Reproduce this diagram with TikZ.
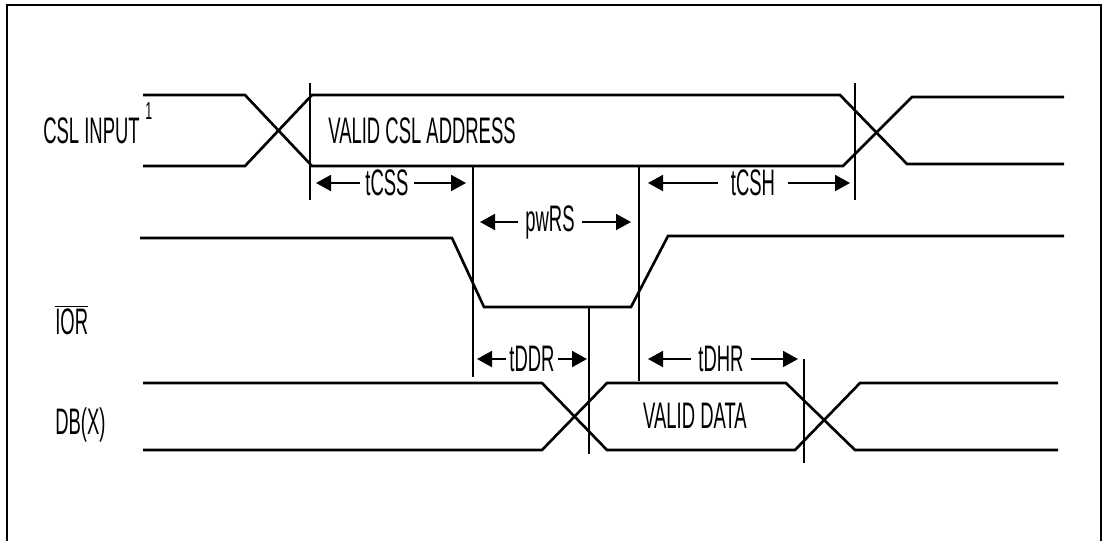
\documentclass[tikz,border=0pt]{standalone}
\usepackage{fontspec}
\setmainfont{Liberation Sans}[FakeStretch=0.5]
\usetikzlibrary{arrows.meta}

\newcommand{\sigfont}{\fontsize{21}{24}\selectfont}

\begin{document}
\begin{tikzpicture}[x=0.2mm,y=-0.2mm,
    every node/.style={font=\sigfont,inner sep=0pt},
    sig/.style={line width=1.5pt,line join=miter},
    refline/.style={line width=1.1pt},
    tim/.style={line width=1.1pt,-{Triangle[length=3mm,width=3.2mm]}},
    lbl/.style={anchor=west}]

    \useasboundingbox (0,0) rectangle (1103,540);
    \draw[line width=1.2pt] (7,545) -- (7,5) -- (1101,5) -- (1101,545);

    % CSL input
    \draw[sig] (143,95) -- (245,95) -- (312,166) -- (843,166) -- (912,97) -- (1064,97);
    \draw[sig] (143,166) -- (245,166) -- (312,95) -- (840,95) -- (907,164) -- (1064,164);
    \node[lbl] (csl) at (43,131) {CSL INPUT};
    \node[lbl,font=\fontsize{14}{16}\selectfont] (note) at (145,111) {1};
    \node[lbl] (addr) at (328,131) {VALID CSL ADDRESS};

    % IOR
    \draw[sig] (140,238) -- (452,238) -- (484,307) -- (631,307) -- (668,236) -- (1064,236);
    \node[lbl] (ior) at (55,320) {$\overline{\hbox{IOR}}$};

    % DB(X)
    \draw[sig] (143,383) -- (542,383) -- (607,450) -- (795,450) -- (860,383) -- (1058,383);
    \draw[sig] (143,450) -- (542,450) -- (607,383) -- (786,383) -- (855,450) -- (1058,450);
    \node[lbl] (db) at (55,425) {DB(X)};
    \node (data) at (695,416) {VALID DATA};

    % reference lines
    \coordinate (m1) at (310,83);
    \coordinate (m2) at (855,83);
    \coordinate (m3) at (473,167);
    \coordinate (m4) at (639,167);
    \coordinate (m5) at (589,307);
    \coordinate (m6) at (804,359);
    \draw[refline] (m1) -- ++(0,117);
    \draw[refline] (m2) -- ++(0,117);
    \draw[refline] (m3) -- ++(0,210);
    \draw[refline] (m4) -- ++(0,214);
    \draw[refline] (m5) -- ++(0,147);
    \draw[refline] (m6) -- ++(0,104);

    % timing
    \node[inner xsep=3pt] (tcss) at (387,183) {tCSS};
    \draw[tim] (tcss.west) -- (316,183);
    \draw[tim] (tcss.east) -- (466,183);

    \node[inner xsep=4pt] (pwrs) at (550,222) {pwRS};
    \draw[tim] (pwrs.west) -- (480,222);
    \draw[tim] (pwrs.east) -- (631,222);

    \node[inner xsep=7pt] (tcsh) at (753,183) {tCSH};
    \draw[tim] (tcsh.west) -- (648,183);
    \draw[tim] (tcsh.east) -- (850,183);

    \node[inner xsep=2pt] (tddr) at (532,359) {tDDR};
    \draw[tim] (tddr.west) -- (477,359);
    \draw[tim] (tddr.east) -- (587,359);

    \node[inner xsep=4pt] (tdhr) at (721,359) {tDHR};
    \draw[tim] (tdhr.west) -- (648,359);
    \draw[tim] (tdhr.east) -- (798,359);
\end{tikzpicture}
\end{document}
